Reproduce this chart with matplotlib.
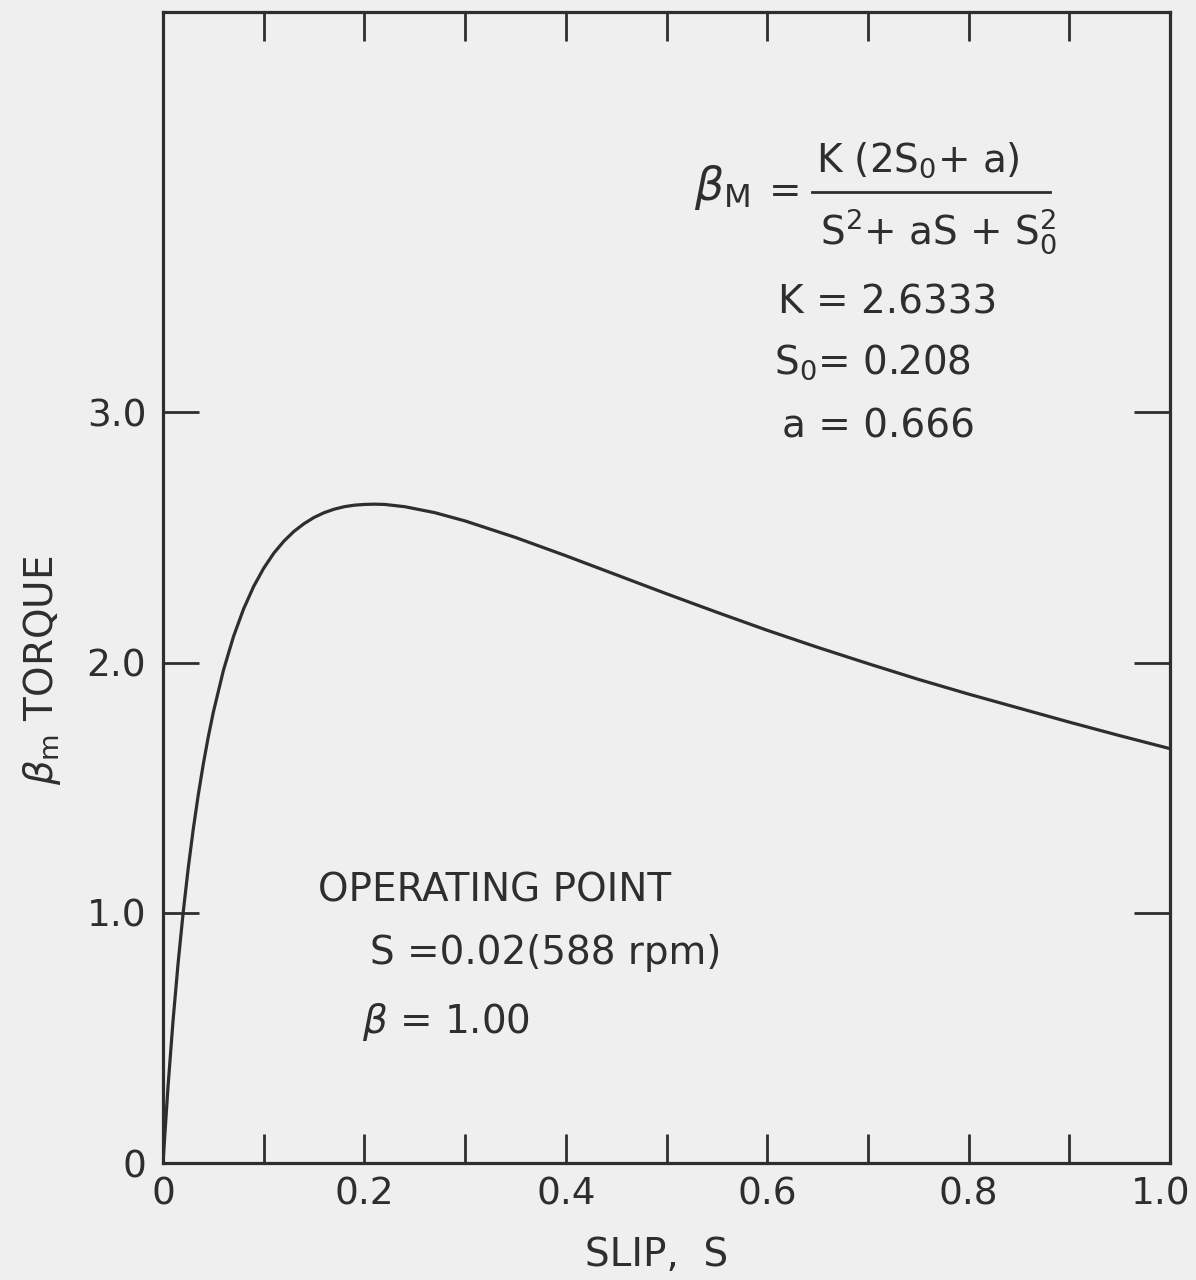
import matplotlib
matplotlib.use("Agg")
import matplotlib.pyplot as plt
from matplotlib.lines import Line2D
from matplotlib.ticker import MultipleLocator
from matplotlib.transforms import ScaledTranslation

# Slip values and motor torque
slip = [0.0, 0.005, 0.01, 0.015, 0.02, 0.025, 0.03, 0.035, 0.04, 0.045, 0.05,
        0.06, 0.07, 0.08, 0.09, 0.10, 0.11, 0.12, 0.13, 0.14, 0.15, 0.16,
        0.17, 0.18, 0.19, 0.20, 0.21, 0.22, 0.24, 0.27, 0.30, 0.35, 0.40,
        0.45, 0.50, 0.55, 0.60, 0.65, 0.70, 0.75, 0.80, 0.85, 0.90, 0.95, 1.00]
torque = [0.0, 0.306, 0.570, 0.799, 1.000, 1.177, 1.333, 1.471, 1.594, 1.704, 1.802,
          1.969, 2.104, 2.214, 2.304, 2.377, 2.437, 2.485, 2.524, 2.555, 2.580, 2.599,
          2.613, 2.623, 2.629, 2.632, 2.633, 2.632, 2.623, 2.599, 2.566, 2.500, 2.427,
          2.351, 2.275, 2.201, 2.129, 2.061, 1.996, 1.933, 1.874, 1.818, 1.762, 1.708, 1.656]

x_ticks = [0.0, 0.2, 0.4, 0.6, 0.8, 1.0]
x_tick_labels = ["0", "0.2", "0.4", "0.6", "0.8", "1.0"]
y_ticks = [0.0, 1.0, 2.0, 3.0]
y_tick_labels = ["0", "1.0", "2.0", "3.0"]

INK = "#2e2e2e"
PAPER = "#efefef"
W, H = 1196, 1280

plt.rcParams["font.family"] = ["DejaVu Sans"]
plt.rcParams["mathtext.fontset"] = "custom"
plt.rcParams["mathtext.rm"] = "DejaVu Sans"
plt.rcParams["mathtext.it"] = "DejaVu Sans:italic"

fig = plt.figure(figsize=(W / 100, H / 100), dpi=100, facecolor=PAPER)
ax = fig.add_axes([163 / W, 1 - 1163 / H, (1170 - 163) / W, (1163 - 12) / H])
ax.set_facecolor(PAPER)

ax.plot(slip, torque, color=INK, lw=2.3, solid_capstyle="round",
        solid_joinstyle="round")

ax.set_xlim(0, 1.0)
ax.set_ylim(0, 4.6)
for s in ax.spines.values():
    s.set_color(INK)
    s.set_linewidth(2.3)

ax.set_xticks(x_ticks)
ax.set_xticklabels(x_tick_labels)
ax.xaxis.set_minor_locator(MultipleLocator(0.1))
ax.set_yticks(y_ticks)
ax.set_yticklabels(y_tick_labels)

ax.tick_params(axis="x", which="both", direction="in", top=True, bottom=True,
               length=21, width=2.0, color=INK, labelsize=27, labelcolor=INK, pad=10)
ax.tick_params(axis="y", which="both", direction="in", left=True, right=True,
               length=26, width=2.0, color=INK, labelsize=27, labelcolor=INK, pad=12)

# Nudge the last x label inward so it stays inside the figure edge
last = ax.get_xticklabels()[-1]
last.set_transform(last.get_transform() + ScaledTranslation(-9 / 100, 0, fig.dpi_scale_trans))

def fx(px):
    return px / W

def fy(py):
    return 1 - py / H

txt = dict(color=INK, fontsize=28)

# Axis titles
fig.text(fx(657), fy(1255), "SLIP,  S", ha="center", va="center", **txt)
fig.text(fx(42), fy(670), r"$\beta_{\mathrm{m}}$ TORQUE", ha="center", va="center",
         rotation=90, **txt)

# Torque formula and constants
fig.text(fx(750), fy(188), r"$\beta_{\mathrm{M}}$", ha="right", va="center",
         color=INK, fontsize=33)
fig.text(fx(785), fy(192), "=", ha="center", va="center", **txt)
fig.text(fx(918), fy(160), r"K (2S$_{\mathrm{0}}$+ a)", ha="center", va="center", **txt)
fig.add_artist(Line2D([fx(812), fx(1050)], [fy(192), fy(192)], color=INK, lw=2.0))
fig.text(fx(938), fy(232), r"S$^{\mathrm{2}}$+ aS + S$_{\mathrm{0}}^{\mathrm{2}}$",
         ha="center", va="center", **txt)
fig.text(fx(888), fy(302), "K = 2.6333", ha="center", va="center", **txt)
fig.text(fx(872), fy(362), r"S$_{\mathrm{0}}$= 0.208", ha="center", va="center", **txt)
fig.text(fx(878), fy(427), "a = 0.666", ha="center", va="center", **txt)

# Operating point note
fig.text(fx(318), fy(890), "OPERATING POINT", ha="left", va="center", **txt)
fig.text(fx(370), fy(953), "S =0.02(588 rpm)", ha="left", va="center", **txt)
fig.text(fx(362), fy(1022), r"$\beta$ = 1.00", ha="left", va="center", **txt)

fig.savefig("out.png", dpi=100, facecolor=PAPER)
